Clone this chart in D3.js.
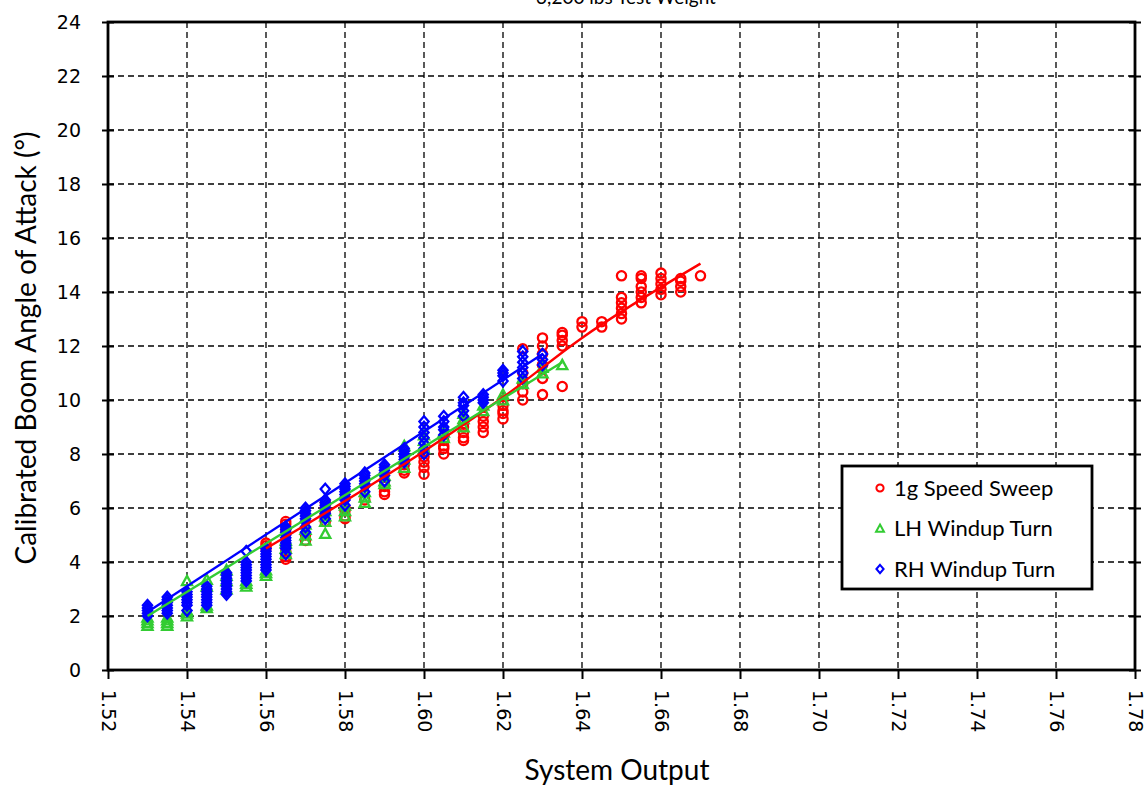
<!DOCTYPE html>
<html>
<head>
<meta charset="utf-8">
<script src="https://cdn.jsdelivr.net/npm/d3@7/dist/d3.min.js"></script>
<style>
  html, body { margin: 0; padding: 0; background: #fff; }
  svg { display: block; }
</style>
</head>
<body>
<svg id="chart" width="1147" height="789"></svg>
<script>
// ---------------- DATA ----------------
const chartTitle = "3,200 lbs Test Weight";
const xAxisTitle = "System Output";
const yAxisTitle = "Calibrated Boom Angle of Attack (°)";
const xTickValues = [1.52,1.54,1.56,1.58,1.60,1.62,1.64,1.66,1.68,1.70,1.72,1.74,1.76,1.78];
const yTickValues = [0,2,4,6,8,10,12,14,16,18,20,22,24];
const seriesNames = ["1g Speed Sweep", "LH Windup Turn", "RH Windup Turn"];

// [System Output, [angles...]]
const speedSweep = [
  [1.56, [4.5,4.6,4.7]],
  [1.565,[4.1,4.2,4.4,5.2,5.4,5.5]],
  [1.57, [4.8,5.0]],
  [1.575,[5.5,5.8,6.0,6.2]],
  [1.58, [5.6,5.7,5.9,6.0]],
  [1.585,[6.3]],
  [1.59, [6.5,6.6,6.8,7.0]],
  [1.595,[7.3,7.4,7.6]],
  [1.60, [7.25,7.5,7.7,7.9,8.1]],
  [1.605,[8.0,8.2,8.3,8.5]],
  [1.61, [8.5,8.6,8.8,9.0,9.1]],
  [1.615,[8.8,9.0,9.2,9.4]],
  [1.62, [9.3,9.5,9.6,9.8,10.0]],
  [1.625,[10.0,10.3,10.6,11.0,11.9]],
  [1.63, [10.2,10.8,11.3,11.7,12.0,12.3]],
  [1.635,[10.5,12.0,12.2,12.4,12.5]],
  [1.64, [12.7,12.9]],
  [1.645,[12.7,12.9]],
  [1.65, [13.0,13.2,13.4,13.6,13.8,14.6]],
  [1.655,[13.6,13.8,14.0,14.2,14.5,14.6]],
  [1.66, [13.9,14.1,14.3,14.5,14.7]],
  [1.665,[14.0,14.2,14.4,14.5]],
  [1.67, [14.6]]
];
const lhWindup = [
  [1.53, [1.65,1.75,1.85,1.95]],
  [1.535,[1.65,1.75,1.85,1.95]],
  [1.54, [2.0,2.1,2.2,3.3]],
  [1.545,[2.3,2.4,3.1,3.35]],
  [1.55, [3.0,3.3,3.5,3.7]],
  [1.555,[3.1,3.2,3.3]],
  [1.56, [3.5,3.6,3.7]],
  [1.565,[4.3,4.5,4.7,4.8]],
  [1.57, [4.8,5.0,5.2,5.4]],
  [1.575,[5.05,5.5,5.7,5.9]],
  [1.58, [5.7,5.9,6.1]],
  [1.585,[6.2,6.4,6.6]],
  [1.59, [6.9,7.0,7.2]],
  [1.595,[7.5,7.8,8.3]],
  [1.60, [8.2,8.5,8.7]],
  [1.605,[8.6,8.8]],
  [1.61, [9.0,9.3,9.5]],
  [1.615,[9.6,9.8]],
  [1.62, [10.0,10.2]],
  [1.625,[10.6,10.8]],
  [1.63, [11.0,11.2]],
  [1.635,[11.3]]
];
const rhWindup = [
  [1.53, [2.0,2.1,2.2,2.3,2.4]],
  [1.535,[2.1,2.2,2.3,2.4,2.5,2.6,2.7]],
  [1.54, [2.2,2.4,2.5,2.6,2.7,2.8,2.9]],
  [1.545,[2.4,2.5,2.6,2.7,2.8,2.9,3.0,3.1]],
  [1.55, [2.8,2.9,3.0,3.1,3.2,3.3,3.4,3.5,3.6]],
  [1.555,[3.3,3.4,3.5,3.6,3.7,3.8,3.9,4.0,4.4]],
  [1.56, [3.7,3.8,3.9,4.0,4.1,4.2,4.3,4.4,4.5]],
  [1.565,[4.3,4.5,4.6,4.7,4.8,4.9,5.0,5.1,5.2,5.3]],
  [1.57, [5.1,5.3,5.5,5.6,5.7,5.8,5.9,6.0]],
  [1.575,[5.6,5.8,5.9,6.0,6.1,6.2,6.3,6.7]],
  [1.58, [6.1,6.3,6.4,6.5,6.6,6.7,6.8,6.9]],
  [1.585,[6.6,6.8,6.9,7.0,7.1,7.2,7.3]],
  [1.59, [7.0,7.2,7.3,7.4,7.5,7.6]],
  [1.595,[7.7,7.8,7.9,8.0,8.1,8.2]],
  [1.60, [8.0,8.2,8.4,8.6,8.8,9.0,9.2]],
  [1.605,[8.7,8.9,9.0,9.2,9.4]],
  [1.61, [9.4,9.6,9.8,9.9,10.1]],
  [1.615,[9.9,10.0,10.1,10.2]],
  [1.62, [10.7,10.9,11.0,11.1]],
  [1.625,[10.8,11.0,11.2,11.4,11.6,11.8]],
  [1.63, [11.3,11.5,11.7]]
];
// trend lines
const speedSweepFit = [[1.56,4.5],[1.60,8.1],[1.62,10.1],[1.64,12.3],[1.67,15.05]];
const lhWindupFit   = [[1.53,2.0],[1.635,11.4]];
const rhWindupFit   = [[1.53,2.15],[1.63,11.7]];

// ---------------- CHART ----------------
const colors = ["#ff0000", "#33cc33", "#0000ff"];
const svg = d3.select("#chart");
const L = 108, R = 1135, T = 22, B = 670;
const x = d3.scaleLinear().domain([1.52, 1.78]).range([L, R]);
const y = d3.scaleLinear().domain([0, 24]).range([B, T]);

// grid
const grid = svg.append("g").attr("stroke", "#000").attr("stroke-width", 1.3).attr("stroke-dasharray", "6,4");
grid.selectAll("line.v").data(xTickValues.slice(1, -1)).join("line")
  .attr("x1", d => x(d)).attr("x2", d => x(d)).attr("y1", T).attr("y2", B);
grid.selectAll("line.h").data(yTickValues.slice(1, -1)).join("line")
  .attr("class","h")
  .attr("x1", L).attr("x2", R).attr("y1", d => y(d)).attr("y2", d => y(d));

// axes
const fontTick = "'DejaVu Sans', Verdana, sans-serif";
const xAxis = d3.axisBottom(x).tickValues(xTickValues).tickFormat(d3.format(".2f")).tickSize(9).tickSizeOuter(0);
const gx = svg.append("g").attr("transform", `translate(0,${B})`).call(xAxis);
gx.select(".domain").remove();
gx.selectAll(".tick line").attr("stroke", "#000").attr("stroke-width", 2);
gx.selectAll(".tick text")
  .attr("font-family", fontTick).attr("font-size", 19).attr("fill", "#000")
  .attr("transform", "rotate(90)")
  .attr("x", 20).attr("y", 0).attr("dy", "0.35em").attr("text-anchor", "start");

const yAxis = d3.axisLeft(y).tickValues(yTickValues).tickSize(6).tickSizeOuter(0).tickPadding(21);
const gy = svg.append("g").attr("transform", `translate(${L},0)`).call(yAxis);
gy.select(".domain").remove();
gy.selectAll(".tick line").attr("stroke", "#000").attr("stroke-width", 2).attr("x2", 6).attr("x1", -6);
gy.selectAll(".tick text").attr("font-family", fontTick).attr("font-size", 19).attr("fill", "#000");

const yAxisR = d3.axisRight(y).tickValues(yTickValues).tickSize(6).tickFormat("");
const gyr = svg.append("g").attr("transform", `translate(${R},0)`).call(yAxisR);
gyr.select(".domain").remove();
gyr.selectAll(".tick line").attr("stroke", "#000").attr("stroke-width", 2).attr("x1", -6).attr("x2", 6);

// frame
svg.append("rect").attr("x", L).attr("y", T).attr("width", R - L).attr("height", B - T)
  .attr("fill", "none").attr("stroke", "#000").attr("stroke-width", 2.8);

// markers
function markerPath(shape, cx, cy, s) {
  if (shape === 0) {
    return `M${cx + s},${cy} A${s},${s} 0 1,1 ${cx - s},${cy} A${s},${s} 0 1,1 ${cx + s},${cy} Z`;
  } else if (shape === 1) {
    const h = s * 1.1;
    return `M${cx},${cy - h} L${cx + s * 1.1},${cy + h * 0.85} L${cx - s * 1.1},${cy + h * 0.85} Z`;
  } else {
    return `M${cx},${cy - s * 1.15} L${cx + s},${cy} L${cx},${cy + s * 1.15} L${cx - s},${cy} Z`;
  }
}
const allSeries = [speedSweep, lhWindup, rhWindup];
allSeries.forEach((ser, i) => {
  const pts = [];
  ser.forEach(([xv, ys]) => ys.forEach(yv => pts.push([xv, yv])));
  svg.append("g").selectAll("path").data(pts).join("path")
    .attr("d", d => markerPath(i, x(d[0]), y(d[1]), 4.6))
    .attr("fill", "none").attr("stroke", colors[i]).attr("stroke-width", 2.3);
});

// trend lines
const line = d3.line().x(d => x(d[0])).y(d => y(d[1])).curve(d3.curveMonotoneX);
[speedSweepFit, lhWindupFit, rhWindupFit].forEach((f, i) => {
  svg.append("path").datum(f).attr("d", line)
    .attr("fill", "none").attr("stroke", colors[i]).attr("stroke-width", 2.4);
});

// titles
const fontLabel = "Lato, 'Open Sans', sans-serif";
svg.append("text").attr("x", 626).attr("y", 4).attr("text-anchor", "middle")
  .attr("font-family", fontLabel).attr("font-size", 19).text(chartTitle);
svg.append("text").attr("x", 617).attr("y", 780).attr("text-anchor", "middle")
  .attr("font-family", fontLabel).attr("font-size", 28).attr("fill", "#000").text(xAxisTitle);
svg.append("text").attr("transform", "translate(36,348) rotate(-90)").attr("text-anchor", "middle")
  .attr("font-family", fontLabel).attr("font-size", 28).attr("fill", "#000").text(yAxisTitle);

// legend
const lg = svg.append("g");
lg.append("rect").attr("x", 842).attr("y", 466).attr("width", 250).attr("height", 123)
  .attr("fill", "#fff").attr("stroke", "#000").attr("stroke-width", 2.8);
seriesNames.forEach((name, i) => {
  const cy = 488 + i * 40.5;
  lg.append("path").attr("d", markerPath(i, 880, cy, 3.6))
    .attr("fill", "none").attr("stroke", colors[i]).attr("stroke-width", 2);
  lg.append("text").attr("x", 894).attr("y", cy).attr("dy", "0.35em")
    .attr("font-family", fontLabel).attr("font-size", 22).attr("fill", "#000").text(name);
});
</script>
</body>
</html>
